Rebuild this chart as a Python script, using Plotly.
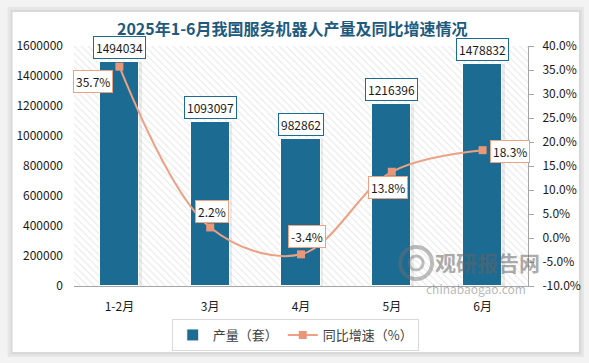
import plotly.graph_objects as go

# ---------------- data ----------------
categories = ["1-2月", "3月", "4月", "5月", "6月"]
production = [1494034, 1093097, 982862, 1216396, 1478832]   # 产量（套）
growth = [35.7, 2.2, -3.4, 13.8, 18.3]                        # 同比增速（%）
left_tick_vals = [0, 200000, 400000, 600000, 800000, 1000000, 1200000, 1400000, 1600000]
right_tick_vals = [-10, -5, 0, 5, 10, 15, 20, 25, 30, 35, 40]

title_text = "2025年1-6月我国服务机器人产量及同比增速情况"
bar_name = "产量（套）"
line_name = "同比增速（%）"

# ---------------- style ----------------
FONT = "Noto Sans CJK SC, Microsoft YaHei, sans-serif"
BAR_COLOR = "#1c6b92"
LINE_COLOR = "#eba184"
MARKER_COLOR = "#e8977a"
TEXT_COLOR = "#1a1a1a"

# plot area in pixels
W, H = 589, 363
L, R, T, B = 73.5, 61, 46, 77
pw = W - L - R
ph = H - T - B

def px_x(x):
    return (x - L) / pw

def px_y(y):
    return (H - B - y) / ph

fig = go.Figure()

# hatched plot background (one hatched band per category slot)
fig.add_trace(go.Bar(
    x=categories, y=[left_tick_vals[-1]] * len(categories), width=1,
    marker=dict(color="white", line=dict(width=0),
                pattern=dict(shape="\\", fgcolor="#d4d4d4", bgcolor="white",
                             size=5, solidity=0.22)),
    showlegend=False, hoverinfo="skip",
))

# subtle bar shadows
fig.add_trace(go.Bar(
    x=categories, y=production, width=0.43, offset=-0.215 + 0.03,
    marker=dict(color="rgba(0,0,0,0.07)", line=dict(width=0)),
    showlegend=False, hoverinfo="skip",
))

# production bars
fig.add_trace(go.Bar(
    x=categories, y=production, width=0.43, name=bar_name,
    marker=dict(color=BAR_COLOR, line=dict(color="white", width=1)),
))

# growth line
fig.add_trace(go.Scatter(
    x=categories, y=growth, yaxis="y2", name=line_name,
    mode="lines+markers",
    line=dict(color=LINE_COLOR, width=2, shape="spline", smoothing=1.0),
    marker=dict(symbol="square", size=8, color=MARKER_COLOR),
))

annotations = []
# bar value labels
for c, v in zip(categories, production):
    annotations.append(dict(
        x=c, y=v, xref="x", yref="y", text=str(v), showarrow=False,
        yanchor="bottom", yshift=3,
        font=dict(family=FONT, size=12, color=TEXT_COLOR),
        bgcolor="white", bordercolor=BAR_COLOR, borderwidth=1, borderpad=2,
    ))

# growth labels (pixel offsets from their points)
growth_offsets = [(-26.5, -15), (2, 16), (6, 17.5), (-4, -15.5), (27, -1)]
for c, g, (dx, dy) in zip(categories, growth, growth_offsets):
    annotations.append(dict(
        x=c, y=g, xref="x", yref="y2", text=f"{g:.1f}%", showarrow=False,
        xshift=dx, yshift=dy,
        font=dict(family=FONT, size=12, color=TEXT_COLOR),
        bgcolor="white", bordercolor=LINE_COLOR, borderwidth=1, borderpad=2,
    ))

# watermark
annotations.append(dict(
    x=px_x(487), y=px_y(262), xref="paper", yref="paper", text="<b>观研报告网</b>",
    xanchor="center", yanchor="middle",
    showarrow=False, font=dict(family=FONT, size=21, color="rgba(100,100,100,0.55)"),
))
annotations.append(dict(
    x=px_x(476), y=px_y(288), xref="paper", yref="paper", text="chinabaogao.com",
    xanchor="center", yanchor="middle",
    showarrow=False, font=dict(family=FONT, size=12, color="rgba(110,110,110,0.5)"),
))

shapes = [
    # card shadow
    dict(type="rect", xref="paper", yref="paper", layer="below",
         x0=px_x(7), x1=px_x(584), y0=px_y(357), y1=px_y(7),
         fillcolor="#e6e6e6", line=dict(width=0)),
    dict(type="rect", xref="paper", yref="paper", layer="below",
         x0=px_x(10), x1=px_x(581.5), y0=px_y(354.5), y1=px_y(10),
         fillcolor="#d9d9d9", line=dict(width=0)),
    # white card
    dict(type="rect", xref="paper", yref="paper", layer="below",
         x0=px_x(12), x1=px_x(579), y0=px_y(352), y1=px_y(12),
         fillcolor="white", line=dict(width=0)),
    # watermark logo rings
    dict(type="circle", xref="paper", yref="paper",
         x0=px_x(400), x1=px_x(432), y0=px_y(279), y1=px_y(247),
         line=dict(color="rgba(110,110,110,0.45)", width=4)),
    dict(type="circle", xref="paper", yref="paper",
         x0=px_x(409), x1=px_x(423), y0=px_y(270), y1=px_y(256),
         line=dict(color="rgba(110,110,110,0.45)", width=3)),
]

fig.update_layout(
    width=W, height=H,
    margin=dict(l=L, r=R, t=T, b=B, pad=0, autoexpand=False),
    paper_bgcolor="#f3f3f3",
    plot_bgcolor="rgba(0,0,0,0)",
    barmode="overlay",
    bargap=0,
    font=dict(family=FONT, size=12, color=TEXT_COLOR),
    title=dict(text=f"<b>{title_text}</b>", x=px_x(292), xanchor="center", xref="paper",
               y=1 - 29 / H, yanchor="middle", yref="container",
               font=dict(family=FONT, size=16, color="#1d5a7e")),
    xaxis=dict(
        type="category", range=[-0.5, len(categories) - 0.5],
        showgrid=False, showline=True, linecolor="#a6a6a6", linewidth=1,
        ticks="", ticklabelstandoff=10, automargin=False,
        tickfont=dict(family=FONT, size=12, color=TEXT_COLOR),
        fixedrange=True,
    ),
    yaxis=dict(
        range=[left_tick_vals[0], left_tick_vals[-1]],
        tickvals=left_tick_vals, ticktext=[str(v) for v in left_tick_vals],
        showgrid=False, showline=False, zeroline=False, ticks="",
        ticklabelstandoff=10, automargin=False,
        tickfont=dict(family=FONT, size=12, color=TEXT_COLOR),
    ),
    yaxis2=dict(
        overlaying="y", side="right",
        range=[right_tick_vals[0], right_tick_vals[-1]],
        tickvals=right_tick_vals, ticktext=[f"{v:.1f}%" for v in right_tick_vals],
        showgrid=False, zeroline=False,
        showline=True, linecolor="#a6a6a6", linewidth=1,
        ticks="outside", ticklen=5, tickcolor="#a6a6a6",
        ticklabelstandoff=6, automargin=False,
        tickfont=dict(family=FONT, size=12, color=TEXT_COLOR),
    ),
    legend=dict(
        orientation="h", x=px_x(295), xanchor="center",
        y=px_y(319), yanchor="top",
        bordercolor="#d9d9d9", borderwidth=1, bgcolor="white",
        font=dict(family=FONT, size=13, color="#404040"),
        itemwidth=30, tracegroupgap=0,
    ),
    annotations=annotations,
    shapes=shapes,
    showlegend=True,
)

fig.write_html(
    "out.html",
    config={"displayModeBar": False},
    post_script="document.body.style.margin='0';document.body.style.overflow='hidden';",
)
